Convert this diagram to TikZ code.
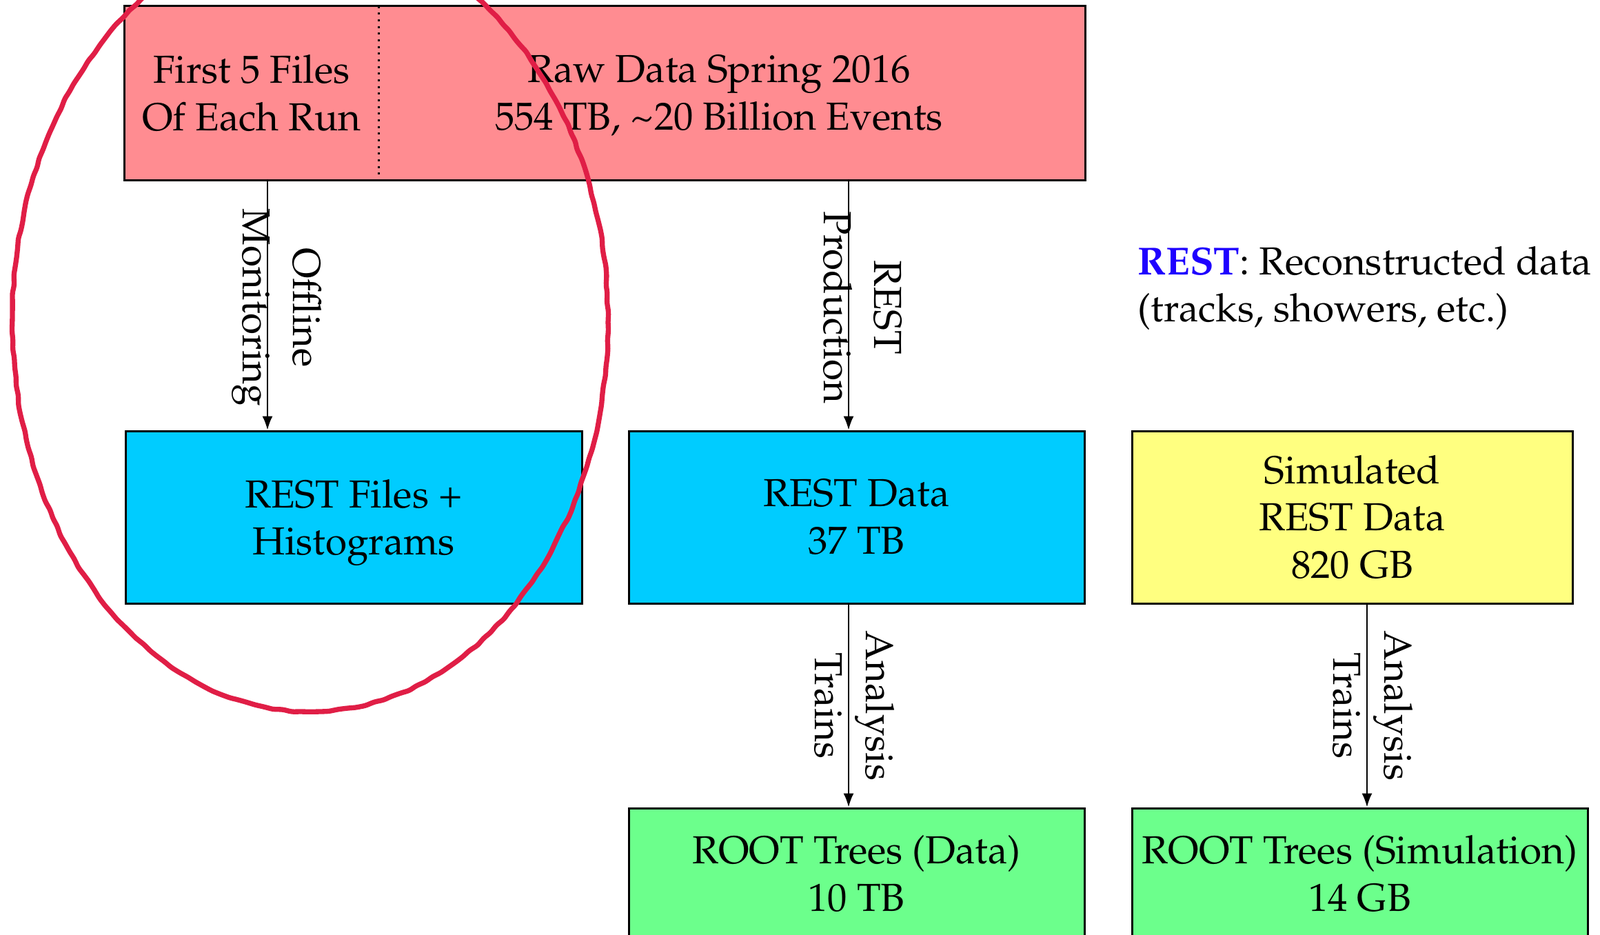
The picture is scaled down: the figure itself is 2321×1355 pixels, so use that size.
\documentclass[tikz,border=0pt]{standalone}
\usepackage[T1]{fontenc}
\usepackage{mathpazo}
\usepackage{color}
\usetikzlibrary{arrows.meta,positioning,decorations.pathmorphing}

\definecolor{rawpink}{RGB}{255,140,145}
\definecolor{restcyan}{RGB}{0,204,255}
\definecolor{simyellow}{RGB}{255,255,128}
\definecolor{rootgreen}{RGB}{108,255,140}
\definecolor{restblue}{RGB}{30,0,255}
\definecolor{circred}{RGB}{224,30,70}

\begin{document}
\begin{tikzpicture}[x=0.3pt,y=-0.3pt,
		box/.style={draw,line width=0.9pt,inner sep=0pt,minimum height=75pt,align=center,font=\fontsize{17}{20.5}\selectfont},
		flow/.style={-{Latex[length=6pt,width=4.5pt]},line width=0.6pt},
		lbl/.style={rotate=-90,align=center,font=\fontsize{17}{22}\selectfont},
		circ/.style={draw=circred,line width=2.2pt,decorate,decoration={random steps,segment length=4pt,amplitude=0.35pt},rounded corners=1pt}]
			\useasboundingbox (0,0) rectangle (2321,1355);
			% raw data, split in two
			\node[box,draw=none,fill=rawpink,minimum width=109.8pt] (first) at (365,135) {First 5 Files\\Of Each Run};
			\node[box,draw=none,fill=rawpink,minimum width=307.5pt] (raw) at (1060.5,135) {};
			\node[box,draw=none,minimum height=0pt] (rawtext) at (1043,135) {Raw Data Spring 2016\\554 TB\smash{,} \textasciitilde20 Billion Events};
			\draw[line width=0.9pt] (first.north west) rectangle (raw.south east);
			\draw[dotted,line width=0.9pt] (first.north east) -- (first.south east);
			% second row
			\node[box,fill=restcyan,minimum width=198.6pt] (hist) at (513,750) {REST Files +\\\smash{Histograms}};
			\node[box,fill=restcyan,minimum width=198.3pt] (rest) at (1242.5,750) {REST Data\\37 TB};
			\node[box,fill=simyellow,minimum width=191.7pt] (sim) at (1961.5,750) {Simulated\\REST Data\\820 GB};
			% bottom row
			\node[box,fill=rootgreen,minimum width=198.3pt,minimum height=57pt] (rootdata) at (1242.5,1267) {ROOT Trees (Data)\\10 TB};
			\node[box,fill=rootgreen,minimum width=198.3pt,minimum height=57pt] (rootsim) at (1972.5,1267) {ROOT Trees (Simulation)\\14 GB};
			\node[anchor=west,align=left,inner sep=0pt,font=\fontsize{17}{20.5}\selectfont] (legend) at (1650,418) {\textcolor{restblue}{\textbf{REST}}: Reconstructed data\\(tracks, showers, etc.)};
			% arrows
			\coordinate (m1) at (388,0);
			\coordinate (m2) at (1231,0);
			\coordinate (m3) at (1983,0);
			\draw[flow] (first.south -| m1) -- node[xshift=4pt,yshift=-1pt,lbl] {Offline\\Monitoring} (hist.north -| m1);
			\draw[flow] (raw.south -| m2) -- node[xshift=6pt,yshift=-1pt,lbl] {REST\\Production} (rest.north -| m2);
			\draw[flow] (rest.south -| m2) -- node[xshift=2.5pt,lbl] {Analysis\\Trains} (rootdata.north -| m2);
			\draw[flow] (sim.south -| m3) -- node[xshift=2.5pt,lbl] {Analysis\\Trains} (rootsim.north -| m3);
			% hand drawn ring
			\draw[circ] (450,466) ellipse [x radius=432,y radius=566];
		\end{tikzpicture}
\end{document}
